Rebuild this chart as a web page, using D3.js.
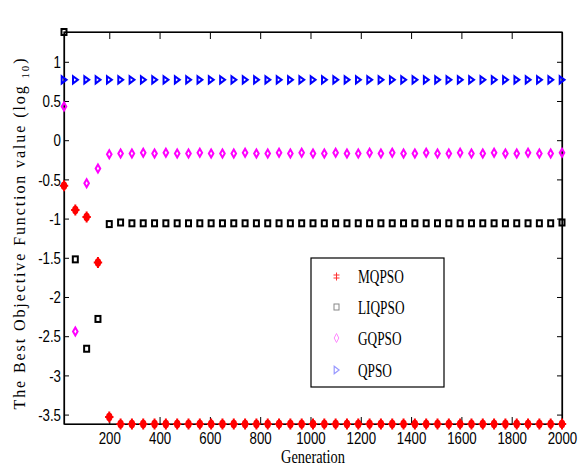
<!DOCTYPE html>
<html><head><meta charset="utf-8">
<script src="https://cdn.jsdelivr.net/npm/d3@7"></script>
<style>html,body{margin:0;padding:0;background:#fff;}svg{display:block;}</style>
</head><body>
<svg id="chart" width="586" height="467"></svg>
<script>
// ---- data ----
const generations = d3.range(45).map(k => 20 + 45 * k);
const seriesNames = ["MQPSO", "LIQPSO", "GQPSO", "QPSO"];
const mqpso = [-0.58, -0.89, -0.98, -1.56, -3.53,
  -3.62, -3.62, -3.62, -3.62, -3.62, -3.62, -3.62, -3.62, -3.62, -3.62,
  -3.62, -3.62, -3.62, -3.62, -3.62, -3.62, -3.62, -3.62, -3.62, -3.62,
  -3.62, -3.62, -3.62, -3.62, -3.62, -3.62, -3.62, -3.62, -3.62, -3.62,
  -3.62, -3.62, -3.62, -3.62, -3.62, -3.62, -3.62, -3.62, -3.62, -3.62];
const liqpso = [1.38, -1.52, -2.66, -2.28, -1.07,
  -1.05, -1.06, -1.06, -1.06, -1.06, -1.06, -1.06, -1.06, -1.06, -1.06,
  -1.06, -1.06, -1.06, -1.06, -1.06, -1.06, -1.06, -1.06, -1.06, -1.06,
  -1.06, -1.06, -1.06, -1.06, -1.06, -1.06, -1.06, -1.06, -1.06, -1.06,
  -1.06, -1.06, -1.06, -1.06, -1.06, -1.06, -1.06, -1.06, -1.06, -1.05];
const gqpso = [0.43, -2.44, -0.55, -0.36, -0.18,
  -0.17, -0.17, -0.16, -0.17, -0.16, -0.17, -0.17, -0.16, -0.17, -0.17,
  -0.17, -0.16, -0.17, -0.17, -0.16, -0.17, -0.16, -0.17, -0.17, -0.16,
  -0.17, -0.17, -0.16, -0.17, -0.16, -0.17, -0.17, -0.16, -0.17, -0.17,
  -0.16, -0.17, -0.17, -0.16, -0.17, -0.17, -0.16, -0.17, -0.17, -0.16];
const qpso = generations.map(() => 0.77);
const xTickValues = [200, 400, 600, 800, 1000, 1200, 1400, 1600, 1800, 2000];
const yTickValues = [-3.5, -3, -2.5, -2, -1.5, -1, -0.5, 0, 0.5, 1];

// ---- layout ----
const L = 64, R = 562, T = 32, B = 424;
const svg = d3.select("#chart");
const x = d3.scaleLinear().domain([20, 2000]).range([L, R]);
const y = d3.scaleLinear().domain([-3.62, 1.38]).range([B, T]);
const tickFont = "'Liberation Sans', Arial, sans-serif";
const serif = "'Liberation Serif', 'Times New Roman', serif";

// box
svg.append("rect").attr("x", L).attr("y", T).attr("width", R - L).attr("height", B - T)
  .attr("fill", "none").attr("stroke", "#000").attr("stroke-width", 1.2);

const gB = svg.append("g").attr("transform", `translate(0,${B})`)
  .call(d3.axisBottom(x).tickValues(xTickValues).tickSize(-7).tickPadding(7).tickSizeOuter(0).tickFormat(d => String(d)));
const gT = svg.append("g").attr("transform", `translate(0,${T})`)
  .call(d3.axisTop(x).tickValues(xTickValues).tickSize(-7).tickSizeOuter(0).tickFormat(""));
const gL = svg.append("g").attr("transform", `translate(${L},0)`)
  .call(d3.axisLeft(y).tickValues(yTickValues).tickSize(-5).tickPadding(3).tickSizeOuter(0).tickFormat(d => String(d)));
const gR = svg.append("g").attr("transform", `translate(${R},0)`)
  .call(d3.axisRight(y).tickValues(yTickValues).tickSize(-5).tickSizeOuter(0).tickFormat(""));
[gB, gT, gL, gR].forEach(g => {
  g.select(".domain").attr("stroke", "#000").attr("stroke-width", 1.2);
  g.selectAll(".tick line").attr("stroke", "#000").attr("stroke-width", 1);
});
gB.selectAll(".tick text").attr("font-family", tickFont).attr("font-size", 16).attr("fill", "#000")
  .attr("y", 0).attr("dy", 0).attr("transform", "translate(0,19.5) scale(0.83,1)");
gL.selectAll(".tick text").attr("font-family", tickFont).attr("font-size", 16).attr("fill", "#000")
  .attr("x", 0).attr("dy", "0.36em").attr("transform", "translate(-3,0) scale(0.83,1)");

// axis titles
svg.append("g").attr("transform", "translate(313,463) scale(0.8,1)")
  .append("text").attr("text-anchor", "middle").attr("font-family", serif).attr("font-size", 18)
  .attr("fill", "#000").text("Generation");
const yl = svg.append("g").attr("transform", "translate(25,233) rotate(-90)")
  .append("text").attr("text-anchor", "middle").attr("font-family", serif).attr("font-size", 16)
  .attr("letter-spacing", "1.9px").attr("fill", "#000");
yl.append("tspan").text("The Best Objective Function value (log ");
yl.append("tspan").attr("font-size", 11).attr("dy", 4).text("10");
yl.append("tspan").attr("dy", -4).text(")");

// ---- markers ----
const markers = {
  MQPSO: (g, s) => {
    g.append("ellipse").attr("rx", 3.2 * s).attr("ry", 4.2 * s).attr("fill", "#ff0000");
    g.append("path").attr("d", `M${-4.2*s},0H${4.2*s}M0,${-5.5*s}V${5.5*s}`).attr("stroke", "#ff0000").attr("stroke-width", 2 * s);
  },
  LIQPSO: (g, s) => g.append("rect").attr("x", -2.5 * s).attr("y", -3 * s).attr("width", 5 * s).attr("height", 6 * s)
    .attr("fill", "none").attr("stroke", "#000").attr("stroke-width", 2 * s),
  GQPSO: (g, s) => g.append("path").attr("d", `M0,${-4*s}L${2.3*s},0L0,${4*s}L${-2.3*s},0Z`)
    .attr("fill", "none").attr("stroke", "#ff00ff").attr("stroke-width", 2 * s),
  QPSO: (g, s) => g.append("path").attr("d", `M${-2.3*s},${-3.6*s}L${2.6*s},0L${-2.3*s},${3.6*s}Z`)
    .attr("fill", "none").attr("stroke", "#0000ff").attr("stroke-width", 2 * s)
};
const allSeries = [mqpso, liqpso, gqpso, qpso];
allSeries.forEach((vals, i) => {
  const name = seriesNames[i];
  svg.append("g").selectAll("g").data(vals).join("g")
    .attr("transform", (d, j) => `translate(${x(generations[j])},${y(d)})`)
    .each(function () { markers[name](d3.select(this), 1); });
});

// ---- legend ----
const lg = svg.append("g");
lg.append("rect").attr("x", 311).attr("y", 258).attr("width", 133).attr("height", 129)
  .attr("fill", "#fff").attr("stroke", "#000").attr("stroke-width", 1.2);
const rowY = [276.5, 307, 338, 370];
const legendMk = [
  g => { g.append("path").attr("d", "M0,-4V4M-3,-1.5H3M-3,1.5H3").attr("stroke", "#ff3030").attr("stroke-width", 1); },
  g => { g.append("rect").attr("x", -2.5).attr("y", -3).attr("width", 5).attr("height", 6).attr("fill", "none").attr("stroke", "#888").attr("stroke-width", 1); },
  g => { g.append("path").attr("d", "M0,-4.5L2.3,0L0,4.5L-2.3,0Z").attr("fill", "none").attr("stroke", "#ff88ff").attr("stroke-width", 1); },
  g => { g.append("path").attr("d", "M-2.3,-3.8L2.6,0L-2.3,3.8Z").attr("fill", "none").attr("stroke", "#9999ff").attr("stroke-width", 1.2); }
];
seriesNames.forEach((name, i) => {
  const g = lg.append("g").attr("transform", `translate(336.5,${rowY[i]})`);
  legendMk[i](g);
  lg.append("g").attr("transform", `translate(358,${rowY[i] + 6.5}) scale(0.7,1)`)
    .append("text").attr("font-family", serif).attr("font-size", 19).attr("fill", "#000").text(name);
});
</script>
</body></html>
